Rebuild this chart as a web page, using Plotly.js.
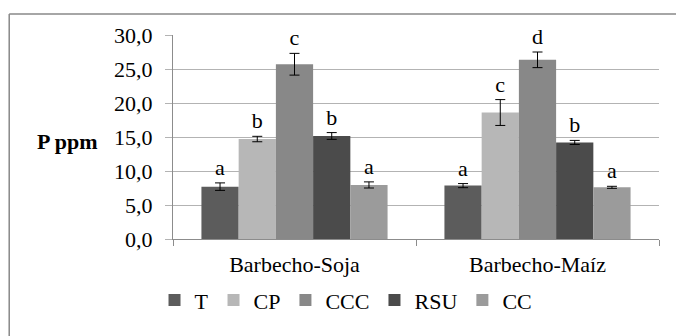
<!DOCTYPE html>
<html>
<head>
<meta charset="utf-8">
<script src="https://cdn.plot.ly/plotly-3.0.1.min.js"></script>
<style>
#chart svg text { font-family: "Liberation Serif", "Times New Roman", Times, serif !important; }
</style>
</head>
<body style="margin:0;padding:0;">
<div id="chart"></div>
<script>
const categories = ["Barbecho-Soja", "Barbecho-Maíz"];
const seriesNames = ["T", "CP", "CCC", "RSU", "CC"];
const T_vals   = [7.7, 7.85];
const CP_vals  = [14.7, 18.6];
const CCC_vals = [25.7, 26.35];
const RSU_vals = [15.15, 14.2];
const CC_vals  = [7.95, 7.6];
const T_err   = [0.55, 0.3];
const CP_err  = [0.4, 1.9];
const CCC_err = [1.6, 1.15];
const RSU_err = [0.5, 0.3];
const CC_err  = [0.45, 0.15];
const T_let   = ["a", "a"];
const CP_let  = ["b", "c"];
const CCC_let = ["c", "d"];
const RSU_let = ["b", "b"];
const CC_let  = ["a", "a"];
const yTickVals = [0, 5, 10, 15, 20, 25, 30];
const yTickText = ["0,0", "5,0", "10,0", "15,0", "20,0", "25,0", "30,0"];

const values = [T_vals, CP_vals, CCC_vals, RSU_vals, CC_vals];
const errors = [T_err, CP_err, CCC_err, RSU_err, CC_err];
const letters = [T_let, CP_let, CCC_let, RSU_let, CC_let];
const colors = ["#5c5c5c", "#b7b7b7", "#888888", "#4b4b4b", "#9b9b9b"];
const FONT = "Liberation Serif";
const FS = 22;

const traces = [];
seriesNames.forEach((name, i) => {
  traces.push({
    type: "bar", name: name, x: categories, y: values[i],
    offsetgroup: String(i),
    marker: {color: colors[i], line: {width: 0}},
    error_y: {type: "data", array: errors[i], visible: true, color: "#000", thickness: 1, width: 5}
  });
});
seriesNames.forEach((name, i) => {
  traces.push({
    type: "bar", name: name + "_lbl", showlegend: false, x: categories,
    y: values[i].map((v, k) => v + errors[i][k]),
    offsetgroup: String(i),
    marker: {color: "rgba(0,0,0,0)"},
    text: letters[i], textposition: "outside", constraintext: "none",
    textfont: {family: FONT, size: FS},
    cliponaxis: false
  });
});

const layout = {
  width: 676, height: 336,
  margin: {l: 173, r: 17, t: 35, b: 97},
  paper_bgcolor: "#fff", plot_bgcolor: "#fff",
  barmode: "group", bargap: 0.234, bargroupgap: 0,
  font: {family: FONT, size: FS, color: "#000"},
  showlegend: true,
  legend: {orientation: "h", x: 0.356, xanchor: "center", y: -0.30, yanchor: "middle",
           font: {family: FONT, size: FS}, itemwidth: 30, tracegroupgap: 0},
  xaxis: {
    type: "category", showgrid: false, showline: true, linecolor: "#8c8c8c", linewidth: 1,
    ticks: "outside", tickson: "boundaries", ticklen: 6, tickcolor: "#8c8c8c",
    tickfont: {family: FONT, size: FS}, ticklabelstandoff: 6
  },
  yaxis: {
    range: [0, 30], tickvals: yTickVals, ticktext: yTickText,
    showgrid: true, gridcolor: "#b3b3b3", gridwidth: 1,
    showline: true, linecolor: "#8c8c8c", linewidth: 1,
    ticks: "outside", ticklen: 7, tickcolor: "#b3b3b3",
    tickfont: {family: FONT, size: FS}, ticklabelstandoff: 8,
    zeroline: false
  },
  annotations: [{
    text: "<b>P ppm</b>", xref: "paper", yref: "paper", x: -0.284, xanchor: "left",
    y: 0.48, yanchor: "middle", showarrow: false, font: {family: FONT, size: FS}
  }],
  shapes: [
    {type: "line", xref: "paper", yref: "paper", x0: -0.337, x1: 1.04, y0: 1.103, y1: 1.103, line: {color: "#888", width: 1.5}},
    {type: "line", xref: "paper", yref: "paper", x0: -0.337, x1: -0.337, y0: 1.103, y1: -0.5, line: {color: "#888", width: 1.5}}
  ]
};

Plotly.newPlot("chart", traces, layout, {displayModeBar: false, staticPlot: true});
</script>
</body>
</html>
